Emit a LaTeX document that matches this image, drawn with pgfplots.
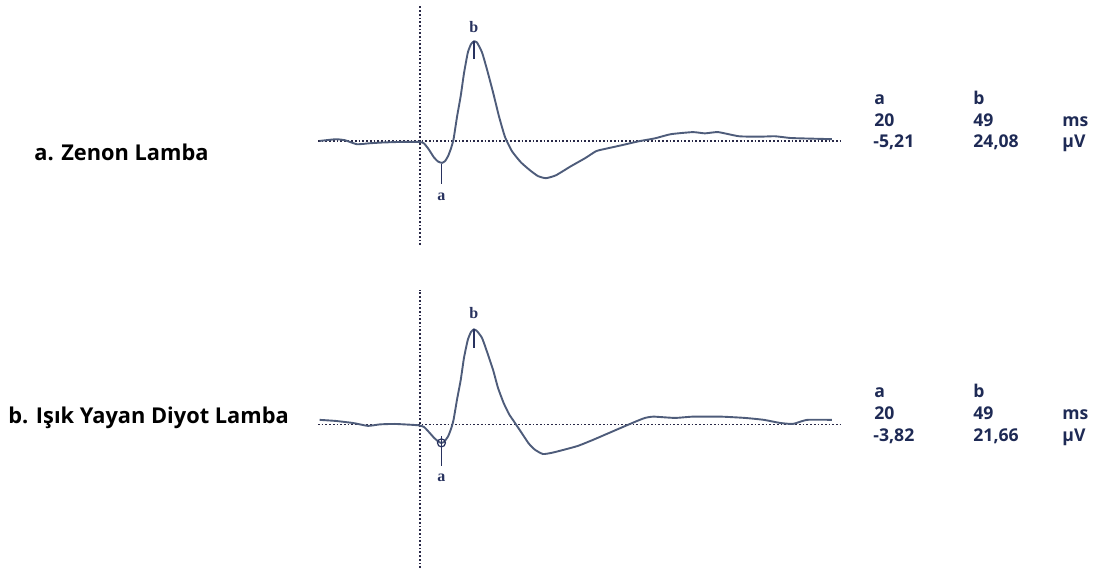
\documentclass[border=0pt]{standalone}
\usepackage{pgfplots}
\pgfplotsset{compat=1.18}
\usepackage{fontspec}
\setmainfont{Open Sans}
\newfontfamily\serifab{Liberation Serif}
\definecolor{trace}{RGB}{78,92,122}
\definecolor{dotc}{RGB}{40,40,70}
\definecolor{tabc}{RGB}{30,42,85}
\definecolor{abc}{RGB}{40,50,95}

\pgfplotstableread{
x y
-91.3 0.07
-76.6 0.48
-68.2 0.24
-57.3 -0.72
-45.5 -0.48
-34.5 -0.31
-18.2 -0.17
-0.4 -0.17
3.6 -0.5
7.8 -1.9
12.7 -3.9
16.4 -4.9
20 -5.21
22.7 -4.8
25.5 -3.6
28.2 -1.7
30.5 0.5
33.6 5.8
37 10.9
40 16.4
43.5 21.4
46.4 23.4
49 24.08
51.8 23.8
56.4 21.4
60.9 17.3
66.4 11.8
71.8 6
77.3 1
83.6 -2.4
91.8 -5.1
100 -7
107.3 -8.4
114.5 -8.9
123.6 -8.2
137.3 -6
150 -4.1
160 -2.4
167.3 -1.9
182.7 -1
199 0
213.6 0.7
228 1.7
248 2.2
259 1.9
271 2.2
290 1.2
309 1.1
322.7 1.2
336 0.8
345.5 0.7
374.5 0.5
}\zenon

\pgfplotstableread{
x y
-91.3 1.05
-76.6 0.8
-60.4 0.3
-47.3 -0.35
-36.4 0
-22.7 0.1
-1.8 -0.2
3.6 -0.6
7.8 -1.7
12.7 -3.1
16.4 -3.95
19.1 -4.3
21.8 -4.1
25.5 -2.8
28.2 -1.05
30.5 1.05
33.6 5.7
37 10.3
40 15.5
43.5 19.7
46.4 21.5
49 22.1
51.8 21.7
56.4 20.1
60.9 16.9
66.4 12.7
70.9 8.5
76 5
80.9 2.4
85.5 0.65
91.8 -1.75
98.7 -4.4
104.5 -5.9
111.8 -6.9
120 -6.6
130.9 -5.9
143.6 -5
157.3 -3.6
170 -2.2
182.7 -0.8
196 0.65
204.5 1.5
212.4 1.8
231.8 1.5
248 1.8
273.6 1.8
295.5 1.5
312.7 1.05
327 0.35
339 0.1
351.8 1.05
374.5 1.05
}\led

\begin{document}
\begin{tikzpicture}
\path (0,0) rectangle (547pt,286.5pt);
% ---------- top axis ----------
\begin{axis}[
  at={(155pt,164pt)}, anchor=south west,
  scale only axis, x=0.55pt, y=2.075pt,
  xmin=-100, xmax=390, ymin=-25, ymax=32.5,
  axis lines=none, clip=false]
\draw[dotc, densely dotted, line width=0.85pt] (axis cs:-92.7,0) -- (axis cs:382.7,0);
\draw[dotc, densely dotted, line width=0.85pt] (axis cs:0,-25) -- (axis cs:0,32.5);
\addplot[trace, line width=0.95pt, smooth, tension=0.3] table[x=x,y=y] {\zenon};
\draw[abc, line width=0.7pt] (axis cs:49,24.1) -- (axis cs:49,19.8);
\draw[abc, line width=0.7pt] (axis cs:19.5,-5.4) -- (axis cs:19.5,-10.4);
\node[abc, font=\serifab\bfseries\fontsize{8}{9}\selectfont] at (axis cs:49,27.6) {b};
\node[abc, font=\serifab\bfseries\fontsize{8}{9}\selectfont] at (axis cs:19.5,-13.3) {a};
\end{axis}
% ---------- bottom axis ----------
\begin{axis}[
  at={(155pt,2.5pt)}, anchor=south west,
  scale only axis, x=0.55pt, y=2.15pt,
  xmin=-100, xmax=390, ymin=-33.4, ymax=31.3,
  axis lines=none, clip=false]
\draw[dotc, densely dotted, line width=0.85pt] (axis cs:-92.7,0) -- (axis cs:382.7,0);
\draw[dotc, densely dotted, line width=0.85pt] (axis cs:0,-33.4) -- (axis cs:0,31.3);
\addplot[trace, line width=0.95pt, smooth, tension=0.3] table[x=x,y=y] {\led};
\addplot[abc, only marks, mark=o, mark size=2pt, mark options={line width=0.6pt}] coordinates {(19.5,-4.3)};
\draw[abc, line width=0.7pt] (axis cs:49,22.2) -- (axis cs:49,17.8);
\draw[abc, line width=0.7pt] (axis cs:19.5,-2.8) -- (axis cs:19.5,-9.6);
\node[abc, font=\serifab\bfseries\fontsize{8}{9}\selectfont] at (axis cs:49,25.8) {b};
\node[abc, font=\serifab\bfseries\fontsize{8}{9}\selectfont] at (axis cs:19.5,-12.5) {a};
\end{axis}
% ---------- side labels ----------
\node[anchor=west, inner sep=0pt, font=\bfseries\fontsize{10.9}{12}\selectfont] at (17pt,210.5pt) {a. Zenon Lamba};
\node[anchor=west, inner sep=0pt, font=\bfseries\fontsize{10.9}{12}\selectfont] at (4pt,77.5pt) {b. Işık Yayan Diyot Lamba};
% ---------- tables ----------
\begin{scope}[every node/.style={anchor=base west, inner sep=0pt, text=tabc, font=\bfseries\fontsize{8.8}{10}\selectfont}]
\node at (437pt,234pt) {a}; \node at (486.5pt,234pt) {b};
\node at (437pt,223pt) {20}; \node at (486.5pt,223pt) {49}; \node at (531pt,223pt) {ms};
\node at (436.5pt,212.5pt) {-5,21}; \node at (486.5pt,212.5pt) {24,08}; \node at (531pt,212.5pt) {µV};
\node at (437pt,87.5pt) {a}; \node at (486.5pt,87.5pt) {b};
\node at (437pt,76.5pt) {20}; \node at (486.5pt,76.5pt) {49}; \node at (531pt,76.5pt) {ms};
\node at (436.5pt,65.6pt) {-3,82}; \node at (486.5pt,65.6pt) {21,66}; \node at (531pt,65.6pt) {µV};
\end{scope}
\end{tikzpicture}
\end{document}
